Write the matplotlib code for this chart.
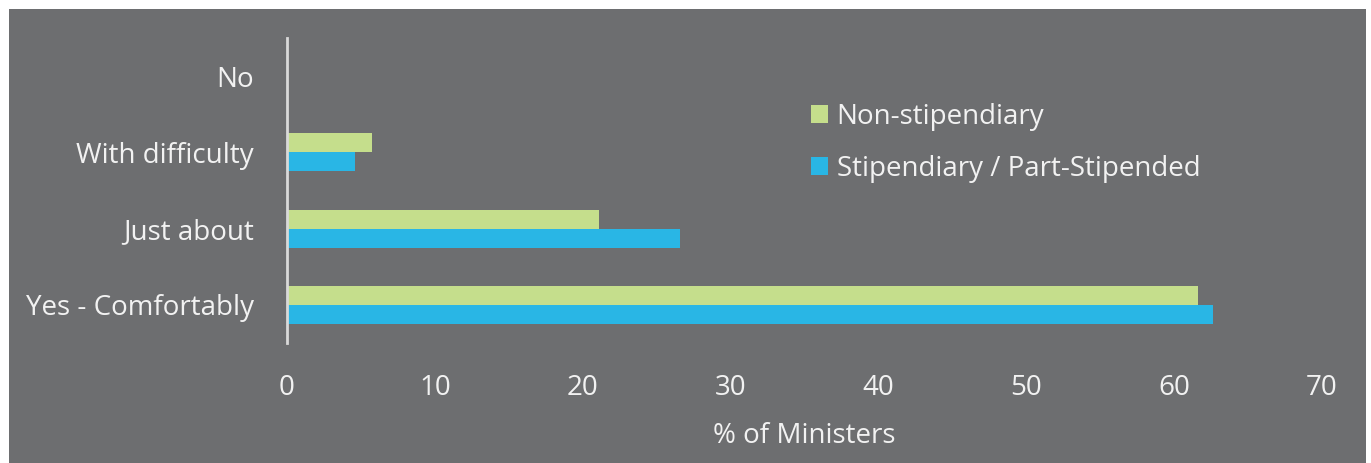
import matplotlib.pyplot as plt
from matplotlib.patches import Rectangle

# data
categories = ['Yes - Comfortably', 'Just about', 'With difficulty', 'No']
non_stip = [61.6, 21.1, 5.75, 0]
stip = [62.6, 26.6, 4.6, 0]
series_names = ['Non-stipendiary', 'Stipendiary / Part-Stipended']
xticks = [0, 10, 20, 30, 40, 50, 60, 70]

bg = '#6d6e70'
green = '#c5de8c'
blue = '#29b6e5'
txt = '#f2f2f2'

plt.rcParams['font.family'] = ['Open Sans', 'DejaVu Sans']
fs = 20

fig = plt.figure(figsize=(13.71, 4.63), dpi=100)
fig.patch.set_facecolor('white')
fig.patches.append(Rectangle((9 / 1371, 0), 1357 / 1371, 454 / 463,
                             transform=fig.transFigure, facecolor=bg,
                             edgecolor='none', zorder=-10))

ax = fig.add_axes([287 / 1371, 120 / 463, 1035 / 1371, 305 / 463])
ax.set_facecolor('none')
ax.set_zorder(5)

h = 0.25
ypos = list(range(len(categories)))
ax.barh([y + h / 2 for y in ypos], non_stip, height=h, color=green, label=series_names[0])
ax.barh([y - h / 2 for y in ypos], stip, height=h, color=blue, label=series_names[1])

ax.set_xlim(0, 70)
ax.set_ylim(-0.5, 3.5)
ax.set_xticks(xticks)
ax.set_yticks(ypos)
ax.set_yticklabels(categories)

for s in ['top', 'right', 'bottom']:
    ax.spines[s].set_visible(False)
ax.spines['left'].set_color('#d9d9d9')
ax.spines['left'].set_linewidth(2)

ax.tick_params(axis='both', length=0, labelsize=fs, colors=txt)
ax.tick_params(axis='x', pad=22)
ax.tick_params(axis='y', pad=24)

ax.set_xlabel('% of Ministers', fontsize=fs, color=txt, labelpad=15)

leg = ax.legend(loc='upper left', bbox_to_anchor=(811 / 1371, 1 - 103 / 463),
                bbox_transform=fig.transFigure, frameon=False, fontsize=fs,
                borderpad=0, borderaxespad=0,
                handlelength=0.62, handleheight=0.62, handletextpad=0.3,
                labelspacing=0.86)
for t in leg.get_texts():
    t.set_color(txt)

plt.savefig('out.png', dpi=100, facecolor=fig.get_facecolor())
